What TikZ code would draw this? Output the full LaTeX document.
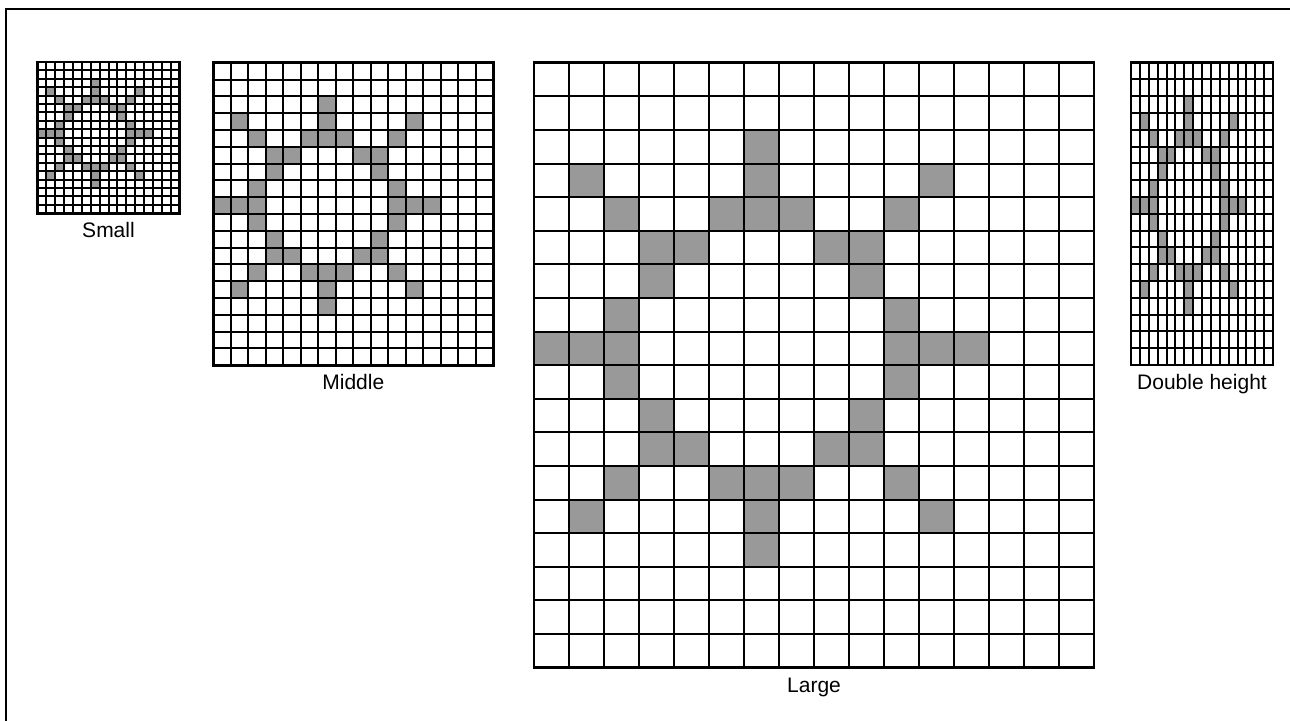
\documentclass[tikz,border=0pt]{standalone}
\usepackage{fontspec}
\setmainfont{Liberation Sans}
\definecolor{sungray}{HTML}{999999}
\tikzset{
  sunfill/.style={fill=sungray},
  gridline/.style={draw=black, line width=1pt},
  gridframe/.style={draw=black, line width=1.4pt},
  outerframe/.style={draw=black, line width=1pt},
  lbl/.style={anchor=base, inner sep=0pt, font=\fontsize{10.5}{12}\selectfont}
}
\def\suncells{6/2,1/3,6/3,11/3,2/4,5/4,6/4,7/4,10/4,3/5,4/5,8/5,9/5,3/6,9/6,2/7,10/7,0/8,1/8,2/8,10/8,11/8,12/8,2/9,10/9,3/10,9/10,3/11,4/11,8/11,9/11,2/12,5/12,6/12,7/12,10/12,1/13,6/13,11/13,6/14}
% #1 x0, #2 y0, #3 cell width, #4 cell height, #5 node name, #6 label
\newcommand\mysungrid[6]{%
  \begin{scope}[shift={(#1,#2)}]
    \foreach \c/\r in \suncells {\fill[sunfill] (\c*#3,\r*#4) rectangle ++(#3,#4);}
    \foreach \i in {1,...,15} {\draw[gridline] (\i*#3,0) -- (\i*#3,18*#4);}
    \foreach \j in {1,...,17} {\draw[gridline] (0,\j*#4) -- (16*#3,\j*#4);}
    \draw[gridframe] (0,0) rectangle (16*#3,18*#4);
    \node[lbl] (#5) at (8*#3,18*#4+24.5) {#6};
  \end{scope}}
\begin{document}
\begin{tikzpicture}[x=0.5pt,y=-0.5pt]
  \useasboundingbox (0,0) rectangle (1290,720);
  \begin{scope}
    \clip (0,0) rectangle (1290,720);
    \draw[outerframe] (6,9) rectangle (1320,740);
  \end{scope}
  \mysungrid{37.5}{62}{8.875}{8.4}{small}{Small}
  \mysungrid{213.3}{62.7}{17.5}{16.8}{middle}{Middle}
  \mysungrid{534}{62.7}{35}{33.6}{large}{Large}
  \mysungrid{1131}{62.5}{8.875}{16.8}{double}{Double height}
\end{tikzpicture}
\end{document}
